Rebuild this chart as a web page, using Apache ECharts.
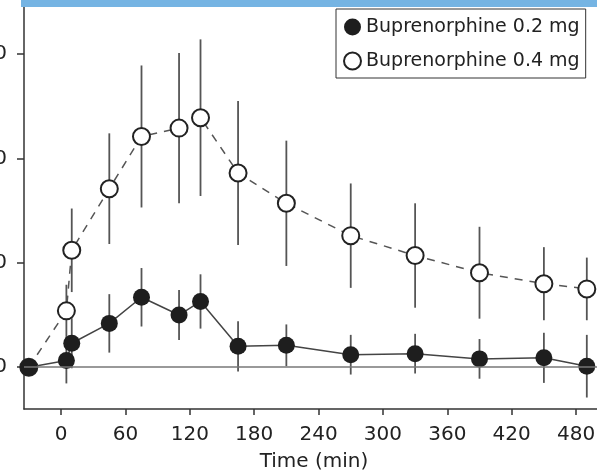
<!DOCTYPE html>
<html>
<head>
<meta charset="utf-8">
<script src="https://cdn.jsdelivr.net/npm/echarts@6/dist/echarts.min.js"></script>
<style>html,body{margin:0;padding:0;background:#fff}#c{width:597px;height:475px}</style>
</head>
<body>
<div id="c"></div>
<script>
const times = [-30, 5, 10, 45, 75, 110, 130, 165, 210, 270, 330, 390, 450, 490];
const mean02 = [0, 0.65, 2.3, 4.2, 6.7, 5.0, 6.3, 2.0, 2.1, 1.2, 1.3, 0.8, 0.9, 0.1];
const err02 = [0, 2.2, 2.4, 2.8, 2.8, 2.4, 2.6, 2.4, 2.0, 1.9, 1.9, 1.9, 2.4, 3.0];
const mean04 = [0, 5.4, 11.2, 17.1, 22.1, 22.9, 23.9, 18.6, 15.7, 12.6, 10.7, 9.05, 8.0, 7.5];
const err04 = [0, 2.5, 4.0, 5.3, 6.8, 7.2, 7.5, 6.9, 6.0, 5.0, 5.0, 4.4, 3.5, 3.0];
const xTicks = [0, 60, 120, 180, 240, 300, 360, 420, 480];
const yTicks = [0, 10, 20, 30];
const names = ['Buprenorphine 0.2 mg', 'Buprenorphine 0.4 mg'];
const xTitle = 'Time (min)';

const FONT = 'DejaVu Sans';
const chart = echarts.init(document.getElementById('c'), null, {renderer: 'canvas'});

function errData(mean, err) {
  return times.map((t, i) => [t, mean[i] - err[i], mean[i] + err[i], err[i]]);
}
function errRender(params, api) {
  if (api.value(3) <= 0) return null;
  const p1 = api.coord([api.value(0), api.value(1)]);
  const p2 = api.coord([api.value(0), api.value(2)]);
  return {
    type: 'line',
    shape: {x1: p1[0], y1: p1[1], x2: p2[0], y2: p2[1]},
    style: {stroke: '#555', lineWidth: 1.8}
  };
}

const option = {
  animation: false,
  backgroundColor: '#fff',
  grid: {left: 24, right: 0, top: 7, bottom: 66, containLabel: false, outerBoundsMode: 'none'},
  graphic: [{
    type: 'rect', left: 21, top: 0, z: 100,
    shape: {width: 576, height: 7},
    style: {fill: '#75b4e3'}
  }],
  legend: {
    orient: 'vertical', left: 336, top: 9,
    padding: [7, 6, 6, 7],
    itemWidth: 17, itemHeight: 17, itemGap: 12,
    icon: 'circle',
    borderColor: '#333', borderWidth: 1,
    backgroundColor: '#fff',
    textStyle: {fontFamily: FONT, fontSize: 19, color: '#222', lineHeight: 22},
    data: names
  },
  xAxis: {
    type: 'value', min: -34.5, max: 499.5,
    splitLine: {show: false},
    axisLine: {show: true, onZero: false, lineStyle: {color: '#333', width: 1.5}},
    axisTick: {show: true, length: 6, customValues: xTicks, lineStyle: {color: '#333', width: 1.5}},
    axisLabel: {customValues: xTicks, margin: 16, fontFamily: FONT, fontSize: 20, color: '#222'},
    name: xTitle, nameLocation: 'middle', nameGap: 43,
    nameTextStyle: {fontFamily: FONT, fontSize: 20, color: '#222', padding: [0, 0, 0, 7]}
  },
  yAxis: {
    type: 'value', min: -4, max: 34.5,
    splitLine: {show: false},
    axisLine: {show: true, onZero: false, lineStyle: {color: '#333', width: 1.5}},
    axisTick: {show: true, length: 7, customValues: yTicks, lineStyle: {color: '#333', width: 1.5}},
    axisLabel: {customValues: yTicks, margin: 17, fontFamily: FONT, fontSize: 20, color: '#222'}
  },
  series: [
    {
      type: 'custom', name: 'err04', renderItem: errRender, data: errData(mean04, err04),
      encode: {x: 0, y: [1, 2]}, z: 1, silent: true
    },
    {
      type: 'custom', name: 'err02', renderItem: errRender, data: errData(mean02, err02),
      encode: {x: 0, y: [1, 2]}, z: 1, silent: true
    },
    {
      name: names[1], type: 'line',
      data: times.map((t, i) => [t, mean04[i]]),
      symbol: 'circle', symbolSize: 17,
      itemStyle: {color: '#fff', borderColor: '#222', borderWidth: 2},
      lineStyle: {color: '#555', width: 1.5, type: [8, 7]},
      z: 3
    },
    {
      name: names[0], type: 'line',
      data: times.map((t, i) => [t, mean02[i]]),
      symbol: 'circle', symbolSize: 17,
      itemStyle: {color: '#1e1e1e', borderColor: '#1e1e1e', borderWidth: 0},
      lineStyle: {color: '#444', width: 1.5},
      markLine: {
        silent: true, symbol: 'none', label: {show: false},
        lineStyle: {color: '#777', width: 1.5, type: 'solid'},
        data: [{yAxis: 0}]
      },
      z: 4
    }
  ]
};
chart.setOption(option);
</script>
</body>
</html>
